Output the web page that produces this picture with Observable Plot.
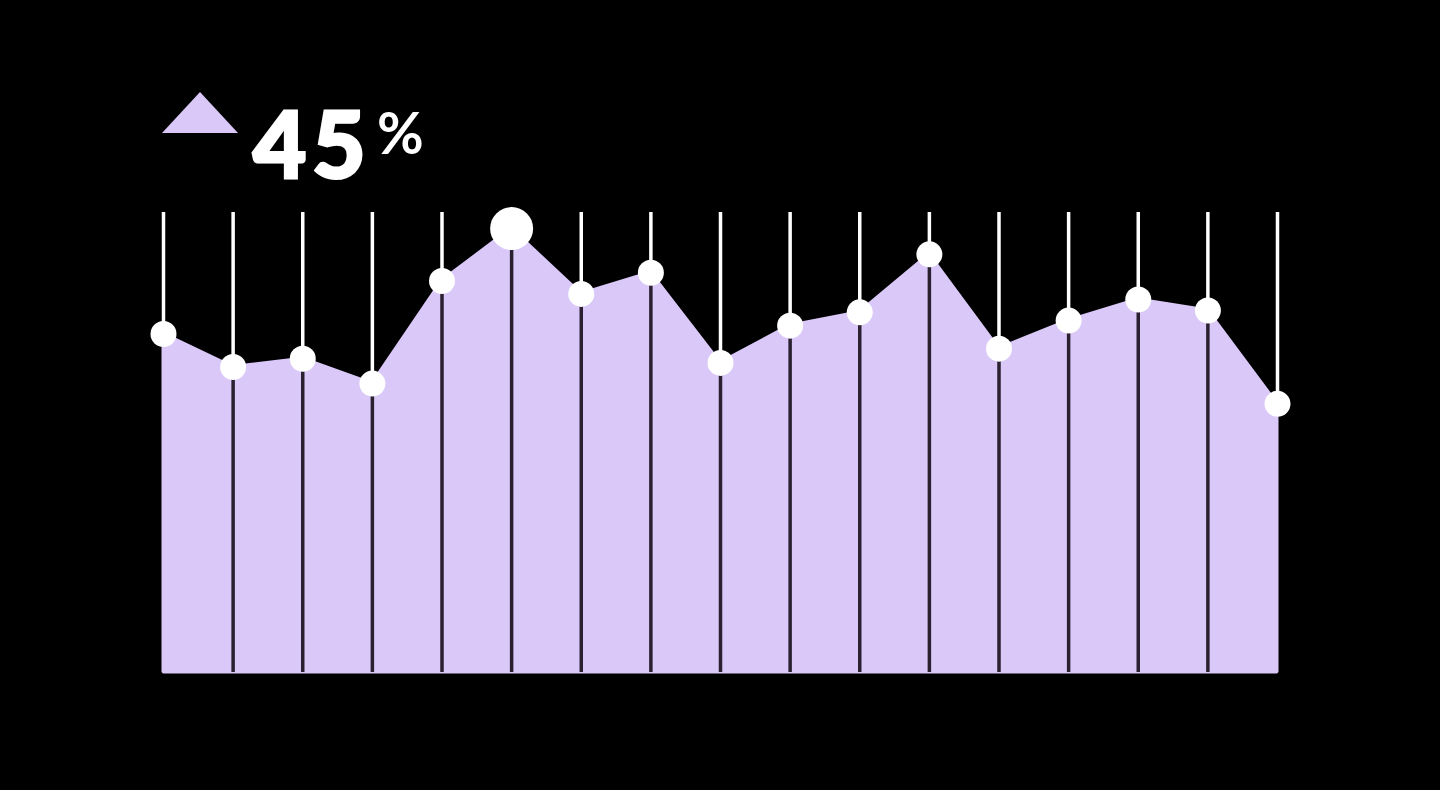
<!DOCTYPE html>
<html>
<head>
<meta charset="utf-8">
<script src="https://cdn.jsdelivr.net/npm/d3@7"></script>
<script src="https://cdn.jsdelivr.net/npm/@observablehq/plot@0.6"></script>
<style>
  html, body { margin: 0; padding: 0; background: #000; width: 1440px; height: 790px; overflow: hidden; }
  #header { position: relative; width: 1440px; height: 200px; }
  #tri { position: absolute; left: 162px; top: 92px; width: 0; height: 0;
         border-left: 38px solid transparent; border-right: 38px solid transparent;
         border-bottom: 41px solid #d9c8f8; }
  #big { position: absolute; left: 253px; top: 93px; font-family: Lato, "Open Sans", sans-serif;
         font-weight: 900; font-size: 92px; line-height: 100px; color: #fff; letter-spacing: 6px;
         -webkit-text-stroke: 3px #fff; }
  #pct { position: absolute; left: 377px; top: 103px; font-family: Lato, "Open Sans", sans-serif;
         font-weight: 700; font-size: 57px; line-height: 58px; color: #fff; }
  #chart svg { display: block; }
</style>
</head>
<body>
<div id="header">
  <div id="tri"></div>
  <div id="big">45</div>
  <div id="pct">%</div>
</div>
<div id="chart"></div>
<script>
// Data (0–100 scale)
const positions = [0, 1, 2, 3, 4, 5, 6, 7, 8, 9, 10, 11, 12, 13, 14, 15, 16];
const values = [73.6, 66.4, 68.2, 62.8, 85.1, 96.5, 82.3, 86.9, 67.3, 75.4, 78.3, 90.9, 70.4, 76.5, 81.1, 78.7, 58.4];
const highlightIndex = 5;

const data = positions.map((p, k) => ({ i: p, v: values[k] }));
const inner = data.filter(d => d.i > 0 && d.i < positions.length - 1);

const chart = Plot.plot({
  width: 1440,
  height: 590,
  marginTop: 12,
  marginBottom: 118,
  marginLeft: 163,
  marginRight: 163,
  style: { background: "#000", overflow: "visible" },
  x: { domain: [0, 16], axis: null },
  y: { domain: [0, 100], axis: null },
  marks: [
    Plot.ruleX(data, { x: "i", y1: 100, y2: "v", stroke: "#fff", strokeWidth: 3.5 }),
    Plot.areaY(data, { x: "i", y: "v", fill: "#d9c8f8", stroke: "#d9c8f8", strokeWidth: 3, strokeLinejoin: "miter" }),
    Plot.ruleX(inner, { x: "i", y1: 0, y2: "v", stroke: "#2a2030", strokeWidth: 3.5 }),
    Plot.dot(data.filter(d => d.i !== highlightIndex), { x: "i", y: "v", r: 13, fill: "#fff" }),
    Plot.dot(data.filter(d => d.i === highlightIndex), { x: "i", y: "v", r: 21.5, fill: "#fff" })
  ]
});
document.getElementById("chart").appendChild(chart);
</script>
</body>
</html>
